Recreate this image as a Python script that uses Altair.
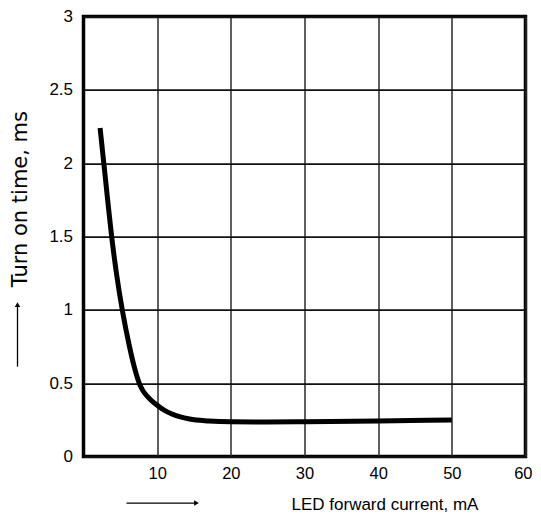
import altair as alt
import pandas as pd

# Data
current_ma = [2.25, 2.8, 3.3, 3.8, 4.5, 5.3, 6.2, 6.9, 7.5, 8.0, 8.5, 9.0, 10, 11, 12, 14.4, 17, 20, 25, 30, 40, 50]
turn_on_ms = [2.24, 1.98, 1.74, 1.51, 1.24, 0.99, 0.76, 0.61, 0.51, 0.455, 0.42, 0.393, 0.35, 0.315, 0.29, 0.256, 0.243, 0.237, 0.236, 0.238, 0.243, 0.25]
x_ticks = [10, 20, 30, 40, 50, 60]
y_ticks = [0, 0.5, 1, 1.5, 2, 2.5, 3]
x_title = "LED forward current, mA"
y_title = "Turn on time, ms"

df = pd.DataFrame({"current": current_ma, "time": turn_on_ms})
one = pd.DataFrame({"k": [0]})

W, H = 442, 440
FONT = "Liberation Sans"

x_enc = alt.X(
    "current:Q",
    scale=alt.Scale(domain=[0, 60], nice=False),
    axis=alt.Axis(
        values=x_ticks, title=x_title, grid=True, gridColor="#2a2a2a", gridWidth=1.5,
        domain=False, ticks=False, tickSize=0, labelPadding=9,
        labelFont=FONT, labelFontSize=16.5, labelColor="#000",
        titleFont=FONT, titleFontSize=17, titleFontWeight="normal", titleColor="#000",
        titleX=301, titleY=53, titleAlign="center", titleBaseline="alphabetic",
        labelFlush=True, labelFlushOffset=6.5,
    ),
)
y_enc = alt.Y(
    "time:Q",
    scale=alt.Scale(domain=[0, 3], nice=False),
    axis=alt.Axis(
        values=y_ticks, format="~g", title=y_title, grid=True, gridColor="#111", gridWidth=1.8,
        domain=False, ticks=False, tickSize=0, labelPadding=11,
        labelFont=FONT, labelFontSize=17, labelColor="#000",
        titleFont="DejaVu Sans", titleFontSize=21, titleFontWeight="normal", titleColor="#000",
        titleX=-57, titleY=182, titleAlign="center", titleBaseline="alphabetic", titleAngle=270,
        labelFlush=False,
    ),
)

curve = alt.Chart(df).mark_line(color="#000", strokeWidth=5, interpolate="monotone").encode(
    x=x_enc, y=y_enc
)

# arrows next to the axis titles (decoration)
x_arrow = alt.Chart(one).mark_rule(color="#000", strokeWidth=1.3).encode(
    x=alt.value(43), x2=alt.value(112), y=alt.value(486.5)
)
x_head = alt.Chart(one).mark_point(shape="triangle-right", filled=True, color="#000", size=30, opacity=1).encode(
    x=alt.value(113), y=alt.value(486.5)
)
y_arrow = alt.Chart(one).mark_rule(color="#000", strokeWidth=1.3).encode(
    x=alt.value(-66), y=alt.value(350), y2=alt.value(289)
)
y_head = alt.Chart(one).mark_point(shape="triangle-up", filled=True, color="#000", size=30, opacity=1).encode(
    x=alt.value(-66), y=alt.value(288)
)

chart = alt.layer(curve, x_arrow, x_head, y_arrow, y_head).properties(
    width=W, height=H,
    autosize=alt.AutoSizeParams(type="none"),
    padding={"left": 75.5, "top": 8.6, "right": 7.5, "bottom": 56},
    background="white",
).configure_view(stroke="#000", strokeWidth=3.5)

chart.save("out.html", embed_options={"renderer": "svg", "actions": False})
